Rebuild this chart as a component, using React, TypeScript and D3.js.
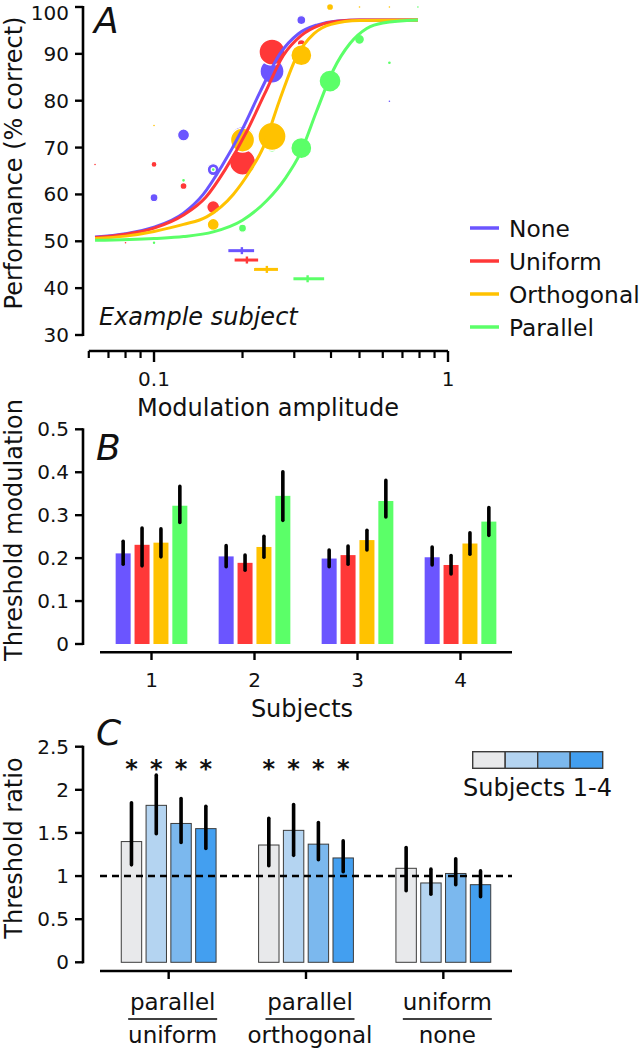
import React from "react";
import * as d3 from "d3";

const W = 642;
const H = 1050;
const FONT = "DejaVu Sans, sans-serif";

// ---- panel A data ----
const conditions = ["None", "Uniform", "Orthogonal", "Parallel"];
const condColors = ["#6b55ff", "#ff3838", "#ffc200", "#5bff68"];

// fitted psychometric curves
const curveAmp = [
  [0.063, 0.08, 0.1, 0.126, 0.147, 0.17, 0.2, 0.23, 0.268, 0.31, 0.36, 0.42, 0.5, 0.79],
  [0.063, 0.08, 0.1, 0.126, 0.15, 0.175, 0.207, 0.238, 0.275, 0.318, 0.365, 0.43, 0.5, 0.79],
  [0.063, 0.08, 0.1, 0.126, 0.151, 0.186, 0.212, 0.235, 0.267, 0.306, 0.35, 0.4, 0.5, 0.79],
  [0.063, 0.1, 0.126, 0.159, 0.2, 0.242, 0.28, 0.314, 0.358, 0.407, 0.464, 0.529, 0.6, 0.79],
];
const curvePct = [
  [50.9, 51.6, 53.0, 56.0, 60.0, 66.0, 74.0, 82.0, 90.0, 94.3, 96.2, 97.0, 97.2, 97.2],
  [50.8, 51.5, 52.8, 55.6, 59.4, 65.4, 73.5, 81.5, 89.6, 94.0, 96.1, 97.0, 97.2, 97.2],
  [50.6, 51.1, 52.1, 53.6, 55.2, 60.0, 65.0, 70.0, 80.0, 89.5, 94.3, 96.3, 97.1, 97.2],
  [50.2, 50.6, 51.0, 52.0, 54.5, 58.7, 63.5, 68.7, 77.9, 86.5, 92.2, 95.4, 96.6, 97.2],
];

// raw data points (radius ~ number of trials)
const pointAmp = [
  [0.1, 0.126, 0.159, 0.2, 0.252, 0.317, 0.632],
  [0.063, 0.08, 0.1, 0.126, 0.159, 0.2, 0.252, 0.317],
  [0.1, 0.159, 0.2, 0.252, 0.317, 0.397, 0.5, 0.632],
  [0.1, 0.126, 0.159, 0.2, 0.252, 0.317, 0.397, 0.5, 0.632, 0.79],
];
const pointPct = [
  [59.3, 72.7, 65.3, 71.9, 86.3, 97.2, 79.9],
  [66.4, 49.7, 66.4, 61.8, 57.3, 66.9, 90.4, 92.2],
  [74.7, 53.6, 71.6, 72.4, 89.7, 100, 100, 100],
  [49.7, 63.0, 65.3, 52.8, 70.1, 69.9, 84.2, 93.1, 88.1, 100],
];
const pointSize = [
  [4, 6, 6, 12, 12, 4.5, 0.8],
  [0.8, 0.8, 3, 3.5, 6.5, 13, 13, 4],
  [0.8, 6, 12, 14, 10.5, 3.5, 0.8, 0.8],
  [1.2, 2, 2, 4, 5, 10.5, 11, 5, 2, 0.8],
];
const drawOrder = [0, 1, 3, 2];

// threshold estimates with confidence intervals
const thrMid = [0.199, 0.207, 0.242, 0.333];
const thrLo = [0.179, 0.188, 0.219, 0.298];
const thrHi = [0.219, 0.226, 0.264, 0.379];
const thrLevel = [48, 46, 44, 42];

const yTicksA = [30, 40, 50, 60, 70, 80, 90, 100];
const xMajorA = [0.1, 1];
const xMinorA = [0.06, 0.07, 0.08, 0.09, 0.2, 0.3, 0.4, 0.5, 0.6, 0.7, 0.8, 0.9];

// ---- panel B data ----
const subjects = ["1", "2", "3", "4"];
const bMean = [
  [0.211, 0.204, 0.199, 0.202],
  [0.231, 0.189, 0.207, 0.184],
  [0.236, 0.226, 0.242, 0.234],
  [0.322, 0.345, 0.333, 0.285],
];
const bLo = [
  [0.186, 0.18, 0.18, 0.184],
  [0.182, 0.172, 0.186, 0.163],
  [0.203, 0.202, 0.219, 0.209],
  [0.283, 0.288, 0.296, 0.253],
];
const bHi = [
  [0.239, 0.229, 0.219, 0.226],
  [0.27, 0.207, 0.228, 0.206],
  [0.268, 0.251, 0.265, 0.259],
  [0.367, 0.401, 0.381, 0.318],
];
const yTicksB = [0, 0.1, 0.2, 0.3, 0.4, 0.5];

// ---- panel C data ----
const ratioNum = ["parallel", "parallel", "uniform"];
const ratioDen = ["uniform", "orthogonal", "none"];
const cMean = [
  [1.4, 1.82, 1.61, 1.55],
  [1.36, 1.53, 1.37, 1.21],
  [1.09, 0.92, 1.03, 0.9],
];
const cLo = [
  [1.13, 1.49, 1.39, 1.32],
  [1.12, 1.24, 1.19, 1.05],
  [0.83, 0.79, 0.9, 0.76],
];
const cHi = [
  [1.85, 2.17, 1.9, 1.81],
  [1.67, 1.83, 1.62, 1.41],
  [1.33, 1.08, 1.2, 1.06],
];
const cSignificant = [true, true, false];
const subjectColors = ["#e8e9eb", "#b4d4f1", "#7bb8ee", "#439ff0"];
const yTicksC = [0, 0.5, 1, 1.5, 2, 2.5];

const fmt = (v: number) => String(v);

function YAxis({ scale, ticks, x, format = fmt }: any) {
  const [r0, r1] = scale.range();
  return (
    <g>
      <line x1={x} x2={x} y1={r0 + 1} y2={r1 - 1} stroke="#000" strokeWidth={2.6} />
      {ticks.map((t: number) => (
        <g key={t}>
          <line x1={x - 8} x2={x} y1={scale(t)} y2={scale(t)} stroke="#000" strokeWidth={2.4} />
          <text x={x - 14} y={Math.max(scale(t) + 7, 20)} textAnchor="end" fontSize={20}>
            {format(t)}
          </text>
        </g>
      ))}
    </g>
  );
}

export default function App() {
  // panel A scales
  const xA = d3.scaleLog().domain([0.06, 1]).range([88.8, 448]);
  const yA = d3.scaleLinear().domain([30, 100]).range([335, 7]);
  const line = d3
    .line<[number, number]>()
    .x((d) => xA(d[0]))
    .y((d) => yA(d[1]))
    .curve(d3.curveMonotoneX);

  // panel B scales
  const xB = d3.scaleBand().domain(subjects).range([100, 512]);
  const xBin = d3.scaleBand().domain(conditions).range([-35.85, 35.85]).paddingInner(0.206);
  const yB = d3.scaleLinear().domain([0, 0.5]).range([644, 429.3]);

  // panel C scales
  const groups = ratioNum.map((_, i) => String(i));
  const xC = d3.scaleBand().domain(groups).range([100, 512]);
  const xCin = d3.scaleBand().domain(subjects).range([-47.4, 47.4]).paddingInner(0.177);
  const yC = d3.scaleLinear().domain([0, 2.5]).range([962.3, 746.7]);

  const axisY = 83;
  const xAxisAY = 351;

  return (
    <svg
      width={W}
      height={H}
      style={{ position: "absolute", left: 0, top: 0, background: "#fff" }}
      fontFamily={FONT}
      fill="#111"
    >
      {/* ================= Panel A ================= */}
      <text x={94} y={33} fontSize={36} fontStyle="italic">A</text>
      <YAxis scale={yA} ticks={yTicksA} x={axisY} />
      <text transform="translate(22,163) rotate(-90)" textAnchor="middle" fontSize={24}>
        Performance (% correct)
      </text>

      <line x1={xA(0.06)} x2={xA(1)} y1={xAxisAY} y2={xAxisAY} stroke="#000" strokeWidth={2.6} />
      {xMinorA.map((t) => (
        <line key={t} x1={xA(t)} x2={xA(t)} y1={xAxisAY} y2={xAxisAY + 7} stroke="#000" strokeWidth={2.2} />
      ))}
      {xMajorA.map((t) => (
        <g key={t}>
          <line x1={xA(t)} x2={xA(t)} y1={xAxisAY} y2={xAxisAY + 11} stroke="#000" strokeWidth={2.4} />
          <text x={xA(t)} y={386} textAnchor="middle" fontSize={20}>{fmt(t)}</text>
        </g>
      ))}
      <text x={268} y={416} textAnchor="middle" fontSize={24}>Modulation amplitude</text>
      <text x={99} y={325} fontSize={24} fontStyle="italic">Example subject</text>

      {drawOrder.map((c) => (
        <g key={"pts" + c}>
          {pointAmp[c].map((a, i) => (
            <circle
              key={i}
              cx={xA(a)}
              cy={yA(pointPct[c][i])}
              r={pointSize[c][i]}
              fill={condColors[c]}
              stroke="#fff"
              strokeWidth={pointSize[c][i] > 1.5 ? 1.3 : 0}
            />
          ))}
        </g>
      ))}
      {conditions.map((_, c) => (
        <path
          key={"curve" + c}
          d={line(curveAmp[c].map((a, i) => [a, curvePct[c][i]] as [number, number])) || ""}
          fill="none"
          stroke={condColors[c]}
          strokeWidth={3}
        />
      ))}
      {conditions.map((_, c) => (
        <g key={"thr" + c} stroke={condColors[c]} strokeWidth={3}>
          <line x1={xA(thrLo[c])} x2={xA(thrHi[c])} y1={yA(thrLevel[c])} y2={yA(thrLevel[c])} />
          <line
            x1={xA(thrMid[c])}
            x2={xA(thrMid[c])}
            y1={yA(thrLevel[c]) - 3.5}
            y2={yA(thrLevel[c]) + 3.5}
            strokeWidth={2.4}
          />
        </g>
      ))}

      {/* legend */}
      {conditions.map((name, c) => {
        const ly = 228 + c * 33;
        return (
          <g key={"leg" + name}>
            <line x1={470} x2={499} y1={ly} y2={ly} stroke={condColors[c]} strokeWidth={3.5} />
            <text x={509} y={ly + 8.5} fontSize={23.3}>{name}</text>
          </g>
        );
      })}

      {/* ================= Panel B ================= */}
      <text x={96} y={460} fontSize={36} fontStyle="italic">B</text>
      <YAxis scale={yB} ticks={yTicksB} x={axisY} />
      <text transform="translate(22,530) rotate(-90)" textAnchor="middle" fontSize={24}>
        Threshold modulation
      </text>
      <line x1={100} x2={512} y1={652.3} y2={652.3} stroke="#000" strokeWidth={2.6} />
      {subjects.map((s, si) => {
        const cx = (xB(s) as number) + xB.bandwidth() / 2;
        return (
          <g key={"bs" + s}>
            <line x1={cx} x2={cx} y1={652.3} y2={660} stroke="#000" strokeWidth={2.4} />
            <text x={cx} y={687} textAnchor="middle" fontSize={20}>{s}</text>
            {conditions.map((cn, c) => {
              const bx = cx + (xBin(cn) as number);
              const mx = bx + xBin.bandwidth() / 2;
              return (
                <g key={cn}>
                  <rect
                    x={bx}
                    y={yB(bMean[c][si])}
                    width={xBin.bandwidth()}
                    height={yB(0) - yB(bMean[c][si])}
                    fill={condColors[c]}
                  />
                  <line
                    x1={mx}
                    x2={mx}
                    y1={yB(bLo[c][si])}
                    y2={yB(bHi[c][si])}
                    stroke="#000"
                    strokeWidth={3.6}
                    strokeLinecap="round"
                  />
                </g>
              );
            })}
          </g>
        );
      })}
      <text x={302} y={717} textAnchor="middle" fontSize={24}>Subjects</text>

      {/* ================= Panel C ================= */}
      <text x={96} y={745} fontSize={36} fontStyle="italic">C</text>
      <YAxis scale={yC} ticks={yTicksC} x={axisY} />
      <text transform="translate(22,848) rotate(-90)" textAnchor="middle" fontSize={24}>
        Threshold ratio
      </text>
      <line x1={100} x2={512} y1={971} y2={971} stroke="#000" strokeWidth={2.6} />
      {groups.map((g, gi) => {
        const cx = (xC(g) as number) + xC.bandwidth() / 2;
        return (
          <g key={"cg" + g}>
            <line x1={cx} x2={cx} y1={971} y2={979} stroke="#000" strokeWidth={2.4} />
            {subjects.map((s, si) => {
              const bx = cx + (xCin(s) as number);
              const mx = bx + xCin.bandwidth() / 2;
              return (
                <g key={s}>
                  <rect
                    x={bx}
                    y={yC(cMean[gi][si])}
                    width={xCin.bandwidth()}
                    height={yC(0) - yC(cMean[gi][si])}
                    fill={subjectColors[si]}
                    stroke="#3c3c3c"
                    strokeWidth={1}
                  />
                  {cSignificant[gi] && (
                    <text x={mx} y={777} textAnchor="middle" fontSize={24} fontWeight="bold">*</text>
                  )}
                </g>
              );
            })}
          </g>
        );
      })}
      <line
        x1={100}
        x2={512}
        y1={yC(1)}
        y2={yC(1)}
        stroke="#000"
        strokeWidth={2.6}
        strokeDasharray="7 5"
      />
      {groups.map((g, gi) => {
        const cx = (xC(g) as number) + xC.bandwidth() / 2;
        return (
          <g key={"ce" + g}>
            {subjects.map((s, si) => {
              const mx = cx + (xCin(s) as number) + xCin.bandwidth() / 2;
              return (
                <line
                  key={s}
                  x1={mx}
                  x2={mx}
                  y1={yC(cLo[gi][si])}
                  y2={yC(cHi[gi][si])}
                  stroke="#000"
                  strokeWidth={3.6}
                  strokeLinecap="round"
                />
              );
            })}
            <text x={cx + 4} y={1010} textAnchor="middle" fontSize={23}>{ratioNum[gi]}</text>
            <line x1={cx + 4 - 44.5} x2={cx + 4 + 44.5} y1={1019} y2={1019} stroke="#000" strokeWidth={1.5} />
            <text x={cx + 4} y={1043} textAnchor="middle" fontSize={23}>{ratioDen[gi]}</text>
          </g>
        );
      })}

      {/* legend C */}
      {subjects.map((s, si) => (
        <rect
          key={"lc" + s}
          x={472.7 + si * 32.5}
          y={751.7}
          width={32.5}
          height={16.6}
          fill={subjectColors[si]}
          stroke="#3c3c3c"
          strokeWidth={1.4}
        />
      ))}
      <text x={537.5} y={796} textAnchor="middle" fontSize={24}>Subjects 1-4</text>
    </svg>
  );
}
